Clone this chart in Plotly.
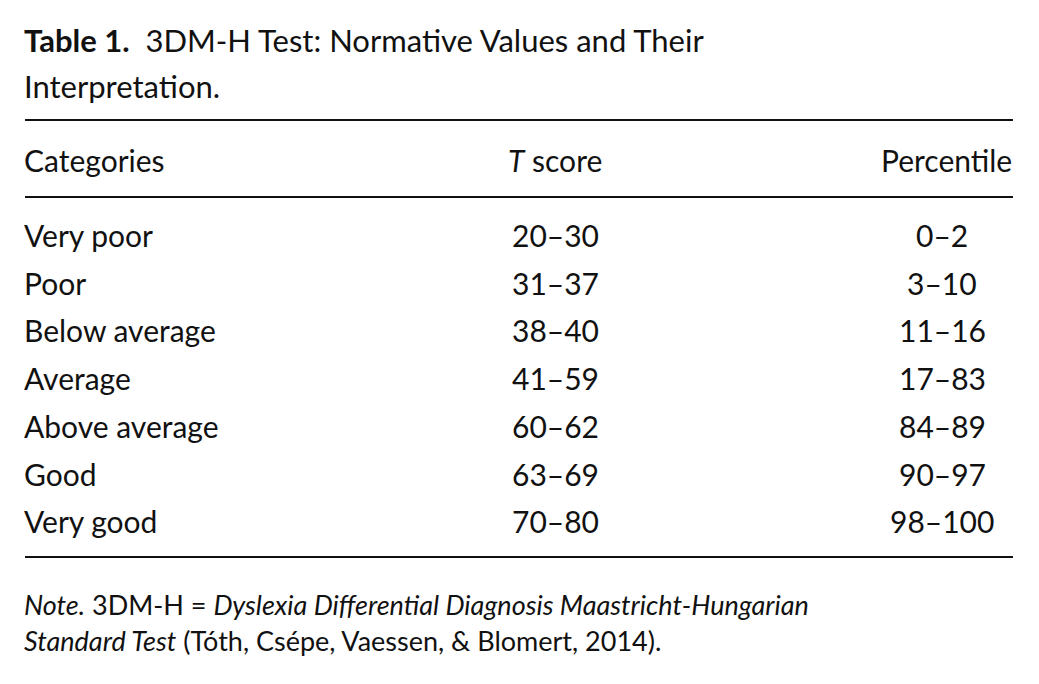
import plotly.graph_objects as go

categories = ["Very poor", "Poor", "Below average", "Average", "Above average", "Good", "Very good"]
t_scores = ["20–30", "31–37", "38–40", "41–59", "60–62", "63–69", "70–80"]
percentiles = ["0–2", "3–10", "11–16", "17–83", "84–89", "90–97", "98–100"]
headers = ["Categories", "<i>T</i> score", "Percentile"]

W, H = 1039, 684
FONT = "Lato, Open Sans, sans-serif"
SIZE = 30
OFF = 8  # page body margin
row_y0, row_step = 235, 47.7

fig = go.Figure()
ann = []

def txt(x, y, s, anchor="left", size=SIZE):
    ann.append(dict(x=x - OFF, y=y - OFF, text=s, xref="x", yref="y", showarrow=False,
                    xanchor=anchor, yanchor="middle",
                    font=dict(family=FONT, size=size, color="#111")))

txt(22, 40, "<b>Table 1.</b>  3DM-H Test: Normative Values and Their", size=31)
txt(22, 86, "Interpretation.", size=31)
txt(22, 160, headers[0])
txt(555, 160, headers[1], "center")
txt(1014, 160, headers[2], "right")

for i, (c, t, p) in enumerate(zip(categories, t_scores, percentiles)):
    y = row_y0 + i * row_step
    txt(22, y, c)
    txt(555, y, t, "center")
    txt(942, y, p, "center")

txt(22, 604, "<i>Note.</i> 3DM-H = <i>Dyslexia Differential Diagnosis Maastricht-Hungarian</i>", size=27)
txt(22, 640, "<i>Standard Test</i> (Tóth, Csépe, Vaessen, & Blomert, 2014).", size=27)

for y in (120, 197, 557):
    fig.add_shape(type="line", x0=25 - OFF, x1=1013 - OFF, y0=y - OFF, y1=y - OFF,
                  xref="x", yref="y", line=dict(color="#111", width=2))

fig.update_layout(
    width=W, height=H, margin=dict(l=0, r=0, t=0, b=0),
    plot_bgcolor="white", paper_bgcolor="white", annotations=ann,
    xaxis=dict(range=[0, W], visible=False, fixedrange=True),
    yaxis=dict(range=[H, 0], visible=False, fixedrange=True),
)
fig.write_html("out.html")
